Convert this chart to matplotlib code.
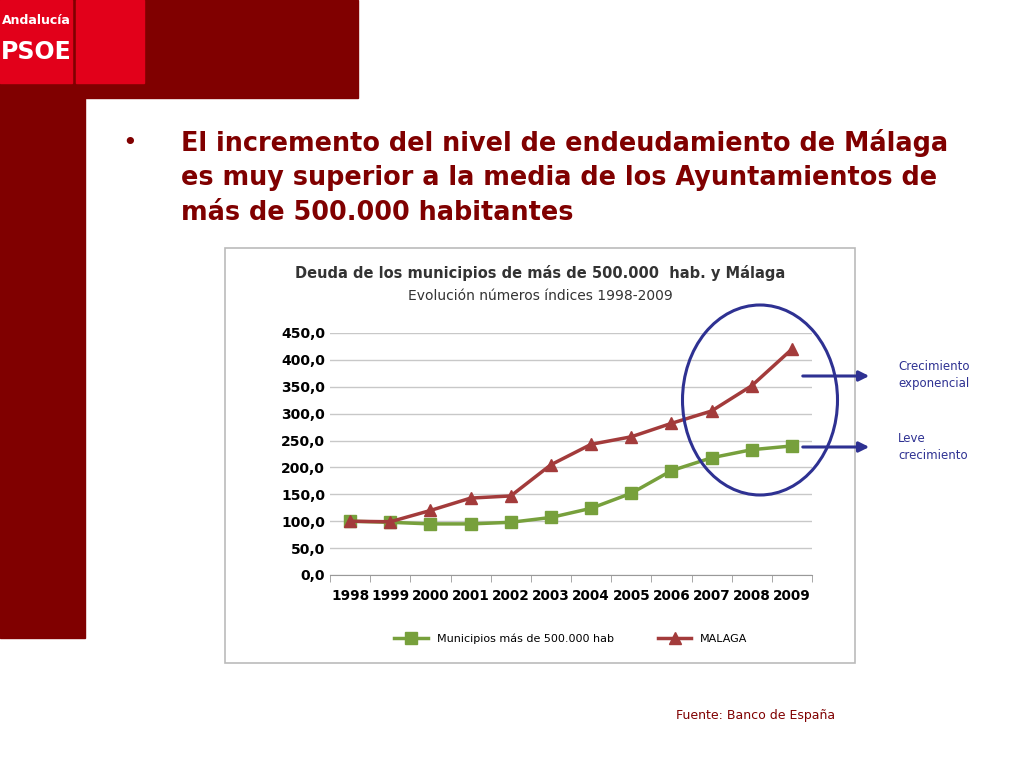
import matplotlib.pyplot as plt
from matplotlib.patches import Rectangle, Ellipse, FancyArrowPatch

years = ["1998", "1999", "2000", "2001", "2002", "2003", "2004", "2005",
         "2006", "2007", "2008", "2009"]
municipios = [100, 98, 95, 95, 98, 107, 124, 152, 194, 218, 233, 240]
malaga = [100, 99, 120, 143, 147, 205, 243, 257, 282, 305, 352, 420]
y_ticks = [0, 50, 100, 150, 200, 250, 300, 350, 400, 450]

W, H = 1024, 768
fig = plt.figure(figsize=(W / 100, H / 100), dpi=100)
bg = fig.add_axes([0, 0, 1, 1])
bg.set_xlim(0, W)
bg.set_ylim(H, 0)
bg.axis("off")

dark = "#800000"
# left bar + banner
bg.add_patch(Rectangle((0, 0), 85, 638, color=dark))
bg.add_patch(Rectangle((0, 0), 358, 98, color=dark))
# logo
bg.add_patch(Rectangle((0, 0), 72, 83, color="#e2001a"))
bg.add_patch(Rectangle((76, 0), 68, 83, color="#e2001a"))
bg.text(36, 20, "Andalucía", color="white", fontsize=9, ha="center", va="center", fontweight="bold")
bg.text(36, 52, "PSOE", color="white", fontsize=17, ha="center", va="center", fontweight="bold")

# heading
bg.text(122, 143, "•", color=dark, fontsize=18, va="center")
lines = ["El incremento del nivel de endeudamiento de Málaga",
         "es muy superior a la media de los Ayuntamientos de",
         "más de 500.000 habitantes"]
for i, t in enumerate(lines):
    bg.text(181, 143 + i * 35, t, color=dark, fontsize=18.4, fontweight="bold", va="center")

# chart frame
bg.add_patch(Rectangle((225, 248), 630, 415, facecolor="white", edgecolor="#bbbbbb", lw=1.2))
bg.text(540, 273, "Deuda de los municipios de más de 500.000  hab. y Málaga",
        fontsize=10.5, fontweight="bold", ha="center", va="center", color="#333333")
bg.text(540, 296, "Evolución números índices 1998-2009", fontsize=10,
        ha="center", va="center", color="#333333")

ax = fig.add_axes([330 / W, 1 - 575 / H, (812 - 330) / W, (575 - 333) / H])
ax.set_facecolor("none")
x = range(len(years))
ax.plot(x, municipios, color="#77a03c", lw=2.5, marker="s", ms=8, label="Municipios más de 500.000 hab")
ax.plot(x, malaga, color="#a33b3b", lw=2.5, marker="^", ms=8, label="MALAGA")
ax.set_xlim(-0.5, 11.5)
ax.set_ylim(0, 450)
ax.set_yticks(y_ticks)
ax.set_yticklabels([f"{v:.1f}".replace(".", ",") for v in y_ticks], fontsize=10, fontweight="bold")
ax.set_xticks(x)
ax.set_xticklabels(years, fontsize=9.8, fontweight="bold")
ax.tick_params(axis="y", length=0)
ax.tick_params(axis="x", length=0, pad=10)
ax.set_xticks([i + 0.5 for i in range(-1, 12)], minor=True)
ax.tick_params(axis="x", which="minor", length=5, color="#999999")
ax.grid(axis="y", color="#c8c8c8", lw=1)
for s in ["top", "right", "left"]:
    ax.spines[s].set_visible(False)
ax.spines["bottom"].set_color("#999999")
ax.set_axisbelow(True)
ax.legend(loc="upper center", bbox_to_anchor=(0.5, -0.2), ncol=2, frameon=False,
          fontsize=8, handlelength=3, columnspacing=4)

# highlight overlay
top = fig.add_axes([0, 0, 1, 1])
top.set_xlim(0, W)
top.set_ylim(H, 0)
top.axis("off")
top.add_patch(Ellipse((760, 400), 155, 190, fill=False, edgecolor="#2e3192", lw=2.2))
for yy in (376, 447):
    top.add_patch(FancyArrowPatch((800, yy), (872, yy), arrowstyle="-|>", mutation_scale=15,
                                  color="#2e3192", lw=2.2))
top.text(898, 375, "Crecimiento\nexponencial", fontsize=8.5, color="#2e3192", va="center", linespacing=1.4)
top.text(898, 447, "Leve\ncrecimiento", fontsize=8.5, color="#2e3192", va="center", linespacing=1.4)
top.text(676, 715, "Fuente: Banco de España", fontsize=9, color=dark, va="center")

fig.savefig("out.png", dpi=100)
